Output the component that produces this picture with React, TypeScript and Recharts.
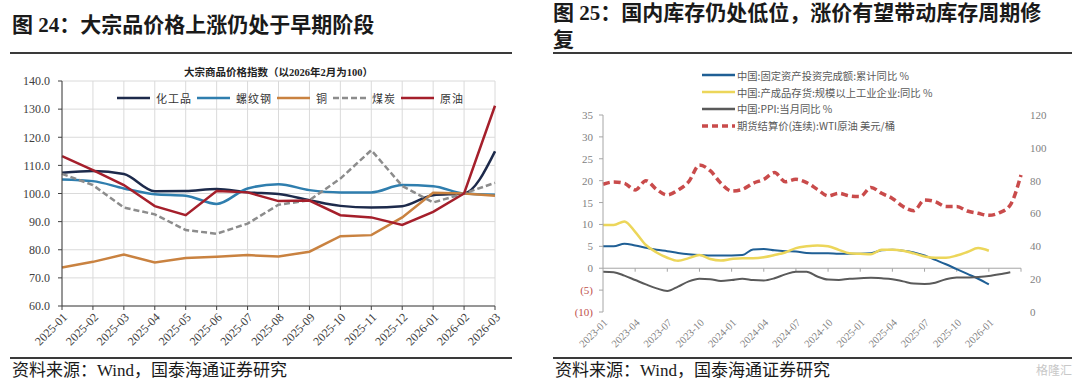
import React from 'react';
import { LineChart, Line, XAxis, YAxis, CartesianGrid, ReferenceLine } from 'recharts';

// ---------- Left chart data (图24) ----------
const leftCategories = ['2025-01', '2025-02', '2025-03', '2025-04', '2025-05', '2025-06', '2025-07', '2025-08', '2025-09', '2025-10', '2025-11', '2025-12', '2026-01', '2026-02', '2026-03'];
const chemicals = [107.4, 108.0, 106.9, 100.8, 100.9, 101.6, 100.4, 99.8, 97.6, 95.6, 95.0, 95.5, 99.4, 100.0, 115.0];
const rebar = [105.0, 104.4, 101.8, 99.7, 99.2, 96.3, 101.8, 103.3, 101.2, 100.4, 100.4, 103.0, 102.6, 100.0, 99.6];
const copper = [73.7, 75.7, 78.3, 75.5, 77.1, 77.5, 78.1, 77.6, 79.3, 84.8, 85.2, 91.5, 100.3, 100.0, 99.2];
const coal = [107.0, 103.0, 95.0, 92.6, 87.0, 85.7, 89.3, 96.0, 97.6, 105.3, 115.4, 102.7, 96.8, 100.0, 103.8];
const crude = [113.3, 108.3, 103.0, 95.5, 92.3, 100.9, 100.4, 97.3, 97.5, 92.3, 91.5, 88.8, 93.5, 100.0, 131.2];
const leftTicks = [60, 70, 80, 90, 100, 110, 120, 130, 140];

// ---------- Right chart data (图25) ----------
const rightMonths = [
  '2023-01', '2023-02', '2023-03', '2023-04', '2023-05', '2023-06', '2023-07', '2023-08', '2023-09', '2023-10', '2023-11', '2023-12',
  '2024-01', '2024-02', '2024-03', '2024-04', '2024-05', '2024-06', '2024-07', '2024-08', '2024-09', '2024-10', '2024-11', '2024-12',
  '2025-01', '2025-02', '2025-03', '2025-04', '2025-05', '2025-06', '2025-07', '2025-08', '2025-09', '2025-10', '2025-11', '2025-12',
  '2026-01', '2026-02', '2026-03', '2026-04',
];
const faiYoY = [5.0, 5.0, 5.6, 5.2, 4.7, 4.2, 3.9, 3.5, 3.2, 3.0, 2.9, 2.9, 2.9, 3.0, 4.3, 4.4, 4.1, 3.9, 3.8, 3.5, 3.4, 3.4, 3.3, 3.3, 3.3, 3.4, 4.1, 4.2, 4.0, 3.6, 2.9, 1.9, 0.9, -0.2, -1.3, -2.4, -3.7, null, null, null];
const inventoryYoY = [9.9, 9.9, 10.7, 8.3, 5.3, 3.6, 2.4, 1.7, 2.3, 3.0, 2.1, 1.75, 2.1, 2.3, 2.3, 2.5, 3.0, 3.6, 4.6, 5.0, 5.2, 5.0, 4.2, 3.4, 3.3, 3.2, 4.2, 4.2, 4.0, 3.4, 2.7, 2.4, 2.4, 2.9, 3.7, 4.6, 4.0, null, null, null];
const ppiYoY = [-0.8, -0.9, -1.7, -2.7, -3.7, -4.6, -5.2, -4.2, -3.0, -2.4, -2.5, -2.9, -2.7, -2.4, -2.7, -2.8, -2.3, -1.4, -0.8, -0.8, -1.9, -2.6, -2.7, -2.4, -2.3, -2.2, -2.3, -2.5, -3.0, -3.5, -3.6, -3.3, -2.5, -2.1, -2.1, -2.0, -1.8, -1.4, -0.9, null];
const wtiPrice = [77.8, 79.2, 78.4, 74.3, 80.0, 74.7, 71.3, 74.3, 79.4, 89.5, 86.1, 78.4, 73.7, 74.7, 78.4, 80.8, 84.9, 79.4, 80.8, 78.8, 74.7, 70.7, 72.3, 70.7, 70.3, 75.9, 72.3, 69.2, 64.2, 61.7, 68.2, 67.2, 64.2, 64.2, 61.5, 60.1, 58.9, 60.5, 65.2, 83.5];
const rightLabelMonths = ['2023-01', '2023-04', '2023-07', '2023-10', '2024-01', '2024-04', '2024-07', '2024-10', '2025-01', '2025-04', '2025-07', '2025-10', '2026-01'];
const rightTickMarkMonths = ['2023-04', '2023-07', '2023-10', '2024-01', '2024-04', '2024-07', '2024-10', '2025-01', '2025-04', '2025-07', '2025-10', '2026-01', '2026-04'];
const rightLeftTicks = [-10, -5, 0, 5, 10, 15, 20, 25, 30, 35];
const rightRightTicks = [0, 20, 40, 60, 80, 100, 120];

const SERIF = '"Liberation Serif", "Times New Roman", serif';
const CJK = '"Liberation Serif", "Noto Sans CJK SC", serif';
const CJK_SANS = '"Noto Sans CJK SC", "Noto Sans", sans-serif';

const leftSeries = [
  { key: 'chem', name: '化工品', color: '#1d2a4b', dash: undefined as string | undefined, type: 'monotone' },
  { key: 'rebar', name: '螺纹钢', color: '#2f7eae', dash: undefined, type: 'monotone' },
  { key: 'copper', name: '铜', color: '#c98240', dash: undefined, type: 'linear' },
  { key: 'coal', name: '煤炭', color: '#8c8c8c', dash: '6 3', type: 'linear' },
  { key: 'crude', name: '原油', color: '#a51f2b', dash: undefined, type: 'linear' },
];

const rightSeries = [
  { key: 'fai', name: '中国:固定资产投资完成额:累计同比 %', color: '#1f5f95', width: 2, dash: undefined as string | undefined, axis: 'l' },
  { key: 'inv', name: '中国:产成品存货:规模以上工业企业:同比 %', color: '#ecd65a', width: 2.5, dash: undefined, axis: 'l' },
  { key: 'ppi', name: '中国:PPI:当月同比 %', color: '#5a5a5a', width: 2, dash: undefined, axis: 'l' },
  { key: 'wti', name: '期货结算价(连续):WTI原油 美元/桶', color: '#c94b4b', width: 3.5, dash: '7 4', axis: 'r' },
];

const leftData = leftCategories.map((c, i) => ({
  cat: c,
  chem: chemicals[i],
  rebar: rebar[i],
  copper: copper[i],
  coal: coal[i],
  crude: crude[i],
}));

const rightData = rightMonths.map((m, i) => ({
  month: m,
  fai: faiYoY[i],
  inv: inventoryYoY[i],
  ppi: ppiYoY[i],
  wti: wtiPrice[i],
}));

const RightLeftTick = (props: any) => {
  const { x, y, payload } = props;
  const v = payload.value as number;
  const neg = v < 0;
  return (
    <text x={x} y={y} dy={4} textAnchor="end" fill={neg ? '#c0504d' : '#7f7f7f'} fontSize={11} fontFamily={SERIF}>
      {neg ? `(${-v})` : `${v}`}
    </text>
  );
};

function LeftLegend() {
  return (
    <div style={{ position: 'absolute', left: 117, top: 90, display: 'flex', alignItems: 'center', fontFamily: CJK_SANS, fontSize: 11, color: '#333', whiteSpace: 'nowrap', height: 16 }}>
      {leftSeries.map((s) => (
        <div key={s.key} style={{ display: 'flex', alignItems: 'center', marginRight: 5 }}>
          <svg width={33} height={6}>
            <line x1={0} y1={3} x2={33} y2={3} stroke={s.color} strokeWidth={2.5} strokeDasharray={s.dash} />
          </svg>
          <span style={{ marginLeft: 6, letterSpacing: 1 }}>{s.name}</span>
        </div>
      ))}
    </div>
  );
}

function RightLegend() {
  return (
    <div style={{ position: 'absolute', left: 702, top: 67, fontFamily: CJK_SANS, fontSize: 10.3, color: '#595959', whiteSpace: 'nowrap' }}>
      {rightSeries.map((s) => (
        <div key={s.key} style={{ display: 'flex', alignItems: 'center', height: 16.8 }}>
          <svg width={33} height={6}>
            <line x1={0} y1={3} x2={33} y2={3} stroke={s.color} strokeWidth={s.key === 'wti' ? 3.5 : 2.5} strokeDasharray={s.dash ? '6 4' : undefined} />
          </svg>
          <span style={{ marginLeft: 2 }}>{s.name}</span>
        </div>
      ))}
    </div>
  );
}

export default function App() {
  return (
    <div style={{ position: 'absolute', left: 0, top: 0, width: 1080, height: 386, background: '#fff', overflow: 'hidden' }}>
      {/* Left title */}
      <div style={{ position: 'absolute', left: 12, top: 12, fontFamily: CJK, fontWeight: 'bold', fontSize: 21, lineHeight: '26px', color: '#1a1a1a', whiteSpace: 'nowrap' }}>
        图 24：大宗品价格上涨仍处于早期阶段
      </div>
      <div style={{ position: 'absolute', left: 10, top: 52, width: 502, height: 1.5, background: '#3a3a3a' }} />

      {/* Right title */}
      <div style={{ position: 'absolute', left: 553, top: 0, fontFamily: CJK, fontWeight: 'bold', fontSize: 21, lineHeight: '27px', color: '#1a1a1a', whiteSpace: 'nowrap' }}>
        图 25：国内库存仍处低位，涨价有望带动库存周期修<br />复
      </div>
      <div style={{ position: 'absolute', left: 553, top: 52, width: 519, height: 1.5, background: '#3a3a3a' }} />

      {/* Left chart title */}
      <div style={{ position: 'absolute', left: 62, width: 433, top: 64, textAlign: 'center', fontFamily: CJK, fontWeight: 'bold', fontSize: 10.5, color: '#222', whiteSpace: 'nowrap' }}>
        大宗商品价格指数（以2026年2月为100）
      </div>

      {/* Left chart */}
      <div style={{ position: 'absolute', left: 0, top: 60 }}>
        <LineChart width={520} height={290} data={leftData} margin={{ top: 21, right: 25, bottom: 4, left: 0 }}>
          <CartesianGrid stroke="#dadada" vertical horizontal />
          <XAxis
            dataKey="cat"
            interval={0}
            height={40}
            axisLine={{ stroke: '#404040' }}
            tickLine={{ stroke: '#404040' }}
            tickSize={4}
            tickMargin={2}
            angle={-45}
            textAnchor="end"
            tick={{ fontSize: 12, fill: '#404040', fontFamily: SERIF }}
          />
          <YAxis
            domain={[60, 140]}
            ticks={leftTicks}
            width={62}
            interval={0}
            axisLine={{ stroke: '#404040' }}
            tickLine={{ stroke: '#404040' }}
            tickSize={4}
            tickMargin={8}
            tickFormatter={(v: number) => v.toFixed(1)}
            tick={{ fontSize: 12, fill: '#404040', fontFamily: SERIF }}
          />
          {leftSeries.map((s) => (
            <Line
              key={s.key}
              dataKey={s.key}
              name={s.name}
              type={s.type as any}
              stroke={s.color}
              strokeWidth={2.5}
              strokeDasharray={s.dash}
              dot={false}
              activeDot={false}
              isAnimationActive={false}
            />
          ))}
        </LineChart>
      </div>
      <LeftLegend />

      {/* Right chart */}
      <div style={{ position: 'absolute', left: 553, top: 60 }}>
        <LineChart width={520} height={290} data={rightData} margin={{ top: 55, right: 12, bottom: 2, left: 0 }}>
          <XAxis
            dataKey="month"
            ticks={rightLabelMonths}
            interval={0}
            height={36}
            axisLine={false}
            tickLine={false}
            tickSize={4}
            tickMargin={2}
            angle={-45}
            textAnchor="end"
            tick={{ fontSize: 10.5, fill: '#7f7f7f', fontFamily: SERIF }}
          />
          <YAxis
            yAxisId="l"
            domain={[-10, 35]}
            ticks={rightLeftTicks}
            interval={0}
            width={50}
            axisLine={{ stroke: '#a6a6a6' }}
            tickLine={{ stroke: '#a6a6a6' }}
            tickSize={4}
            tickMargin={6}
            tick={<RightLeftTick />}
          />
          <YAxis
            yAxisId="r"
            orientation="right"
            domain={[0, 120]}
            ticks={rightRightTicks}
            interval={0}
            width={40}
            axisLine={false}
            tickLine={false}
            tickSize={6}
            tickMargin={3}
            tick={{ fontSize: 11, fill: '#7f7f7f', fontFamily: SERIF }}
          />
          <ReferenceLine yAxisId="l" y={0} stroke="#a6a6a6" strokeWidth={1} />
          {rightTickMarkMonths.map((m) => (
            <ReferenceLine key={m} yAxisId="l" segment={[{ x: m, y: 0 }, { x: m, y: -0.8 }]} stroke="#a6a6a6" strokeWidth={1} />
          ))}
          {rightSeries.map((s) => (
            <Line
              key={s.key}
              yAxisId={s.axis}
              dataKey={s.key}
              name={s.name}
              type="monotone"
              stroke={s.color}
              strokeWidth={s.width}
              strokeDasharray={s.dash}
              dot={false}
              activeDot={false}
              isAnimationActive={false}
            />
          ))}
        </LineChart>
      </div>
      <RightLegend />

      {/* Footers */}
      <div style={{ position: 'absolute', left: 10, top: 357, width: 502, height: 1.5, background: '#3a3a3a' }} />
      <div style={{ position: 'absolute', left: 553, top: 357, width: 519, height: 1.5, background: '#3a3a3a' }} />
      <div style={{ position: 'absolute', left: 12, top: 361, fontFamily: CJK, fontSize: 17, lineHeight: '20px', color: '#1a1a1a', whiteSpace: 'nowrap' }}>
        资料来源：Wind，国泰海通证券研究
      </div>
      <div style={{ position: 'absolute', left: 555, top: 361, fontFamily: CJK, fontSize: 17, lineHeight: '20px', color: '#1a1a1a', whiteSpace: 'nowrap' }}>
        资料来源：Wind，国泰海通证券研究
      </div>
      <div style={{ position: 'absolute', left: 1036, top: 362, fontFamily: CJK_SANS, fontSize: 12, lineHeight: '16px', color: '#c8c8c8', whiteSpace: 'nowrap' }}>
        格隆汇
      </div>
    </div>
  );
}
